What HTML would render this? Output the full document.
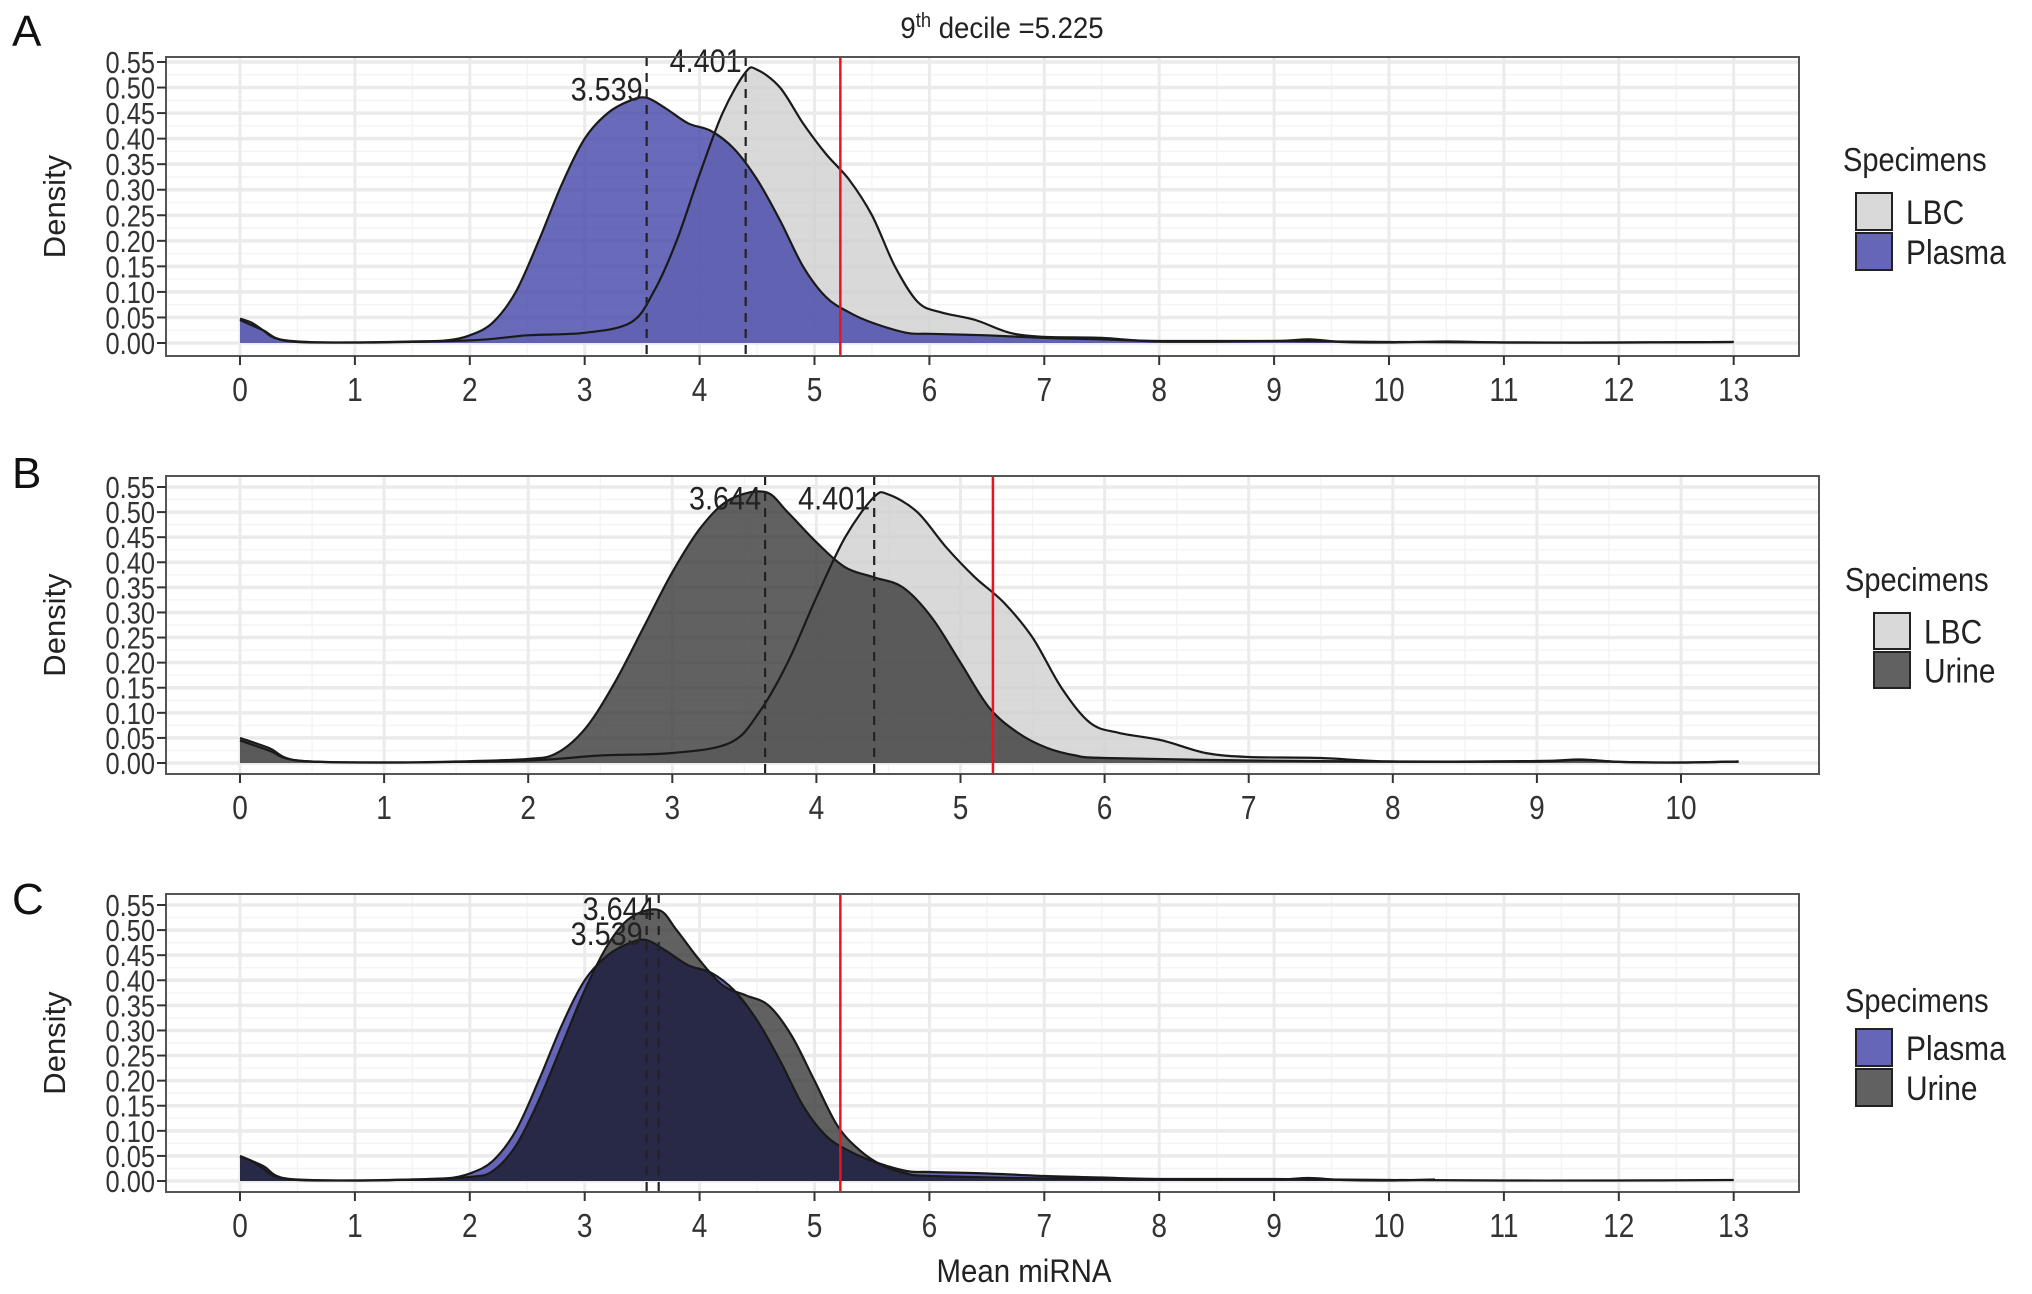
<!DOCTYPE html>
<html><head><meta charset="utf-8">
<style>
html,body{margin:0;padding:0;background:#fff;}
svg{display:block;font-family:"Liberation Sans",Arial,sans-serif;}
</style></head>
<body>
<svg id="chart" width="2032" height="1294" viewBox="0 0 2032 1294" xmlns="http://www.w3.org/2000/svg">
<text x="1002" y="38" font-size="30" text-anchor="middle" fill="#222" transform="translate(1002,0) scale(0.92,1) translate(-1002,0)">9<tspan font-size="20" dy="-11">th</tspan><tspan dy="11"> decile =5.225</tspan></text>
<text x="1024" y="1282" font-size="32" text-anchor="middle" fill="#222" transform="translate(1024,0) scale(0.92,1) translate(-1024,0)">Mean miRNA</text>
</svg>
<script>
const yTicks=[0,0.05,0.1,0.15,0.2,0.25,0.3,0.35,0.4,0.45,0.5,0.55];
const xTicksLong=[0,1,2,3,4,5,6,7,8,9,10,11,12,13];
const xTicksShort=[0,1,2,3,4,5,6,7,8,9,10];
const decile=5.225;
const plasmaX=[0,0.1,0.2,0.3,0.5,1,1.5,1.8,2,2.2,2.4,2.6,2.8,3,3.2,3.4,3.539,3.7,3.9,4.1,4.3,4.5,4.7,4.9,5.1,5.3,5.5,5.8,6,6.5,7,7.5,8,9,10,11,12,13];
const plasmaY=[0.048,0.04,0.025,0.01,0.002,0.001,0.003,0.005,0.015,0.04,0.1,0.2,0.31,0.4,0.45,0.475,0.48,0.46,0.43,0.415,0.38,0.32,0.24,0.15,0.09,0.06,0.04,0.02,0.018,0.015,0.01,0.007,0.004,0.004,0.002,0.001,0.001,0.002];
const lbcX=[0,0.2,0.4,1,2,2.5,3,3.4,3.6,3.8,4,4.2,4.4,4.5,4.7,4.9,5.1,5.3,5.5,5.7,5.9,6.1,6.4,6.7,7,7.5,8,9,9.3,9.6,10,10.5,11,12,13];
const lbcY=[0.045,0.025,0.005,0.001,0.005,0.015,0.02,0.04,0.1,0.2,0.33,0.45,0.53,0.535,0.5,0.43,0.37,0.32,0.25,0.15,0.08,0.06,0.045,0.02,0.012,0.01,0.003,0.004,0.007,0.002,0.001,0.003,0.001,0.001,0.002];
const lbcXB=[0,0.2,0.4,1,2,2.5,3,3.4,3.6,3.8,4,4.2,4.4,4.5,4.7,4.9,5.1,5.3,5.5,5.7,5.9,6.1,6.4,6.7,7,7.5,8,9,9.3,9.6,10,10.4];
const lbcYB=[0.045,0.025,0.005,0.001,0.005,0.015,0.02,0.04,0.1,0.2,0.33,0.45,0.53,0.535,0.5,0.43,0.37,0.32,0.25,0.15,0.08,0.06,0.045,0.02,0.012,0.01,0.003,0.004,0.007,0.002,0.001,0.003];
const urineX=[0,0.2,0.4,1,1.5,2,2.2,2.4,2.6,2.8,3,3.2,3.4,3.644,3.8,4,4.2,4.4,4.6,4.8,5,5.2,5.4,5.6,5.8,6,7,8,9,9.3,9.6,10,10.4];
const urineY=[0.05,0.03,0.005,0.001,0.003,0.008,0.02,0.07,0.16,0.27,0.38,0.47,0.525,0.54,0.5,0.44,0.39,0.37,0.35,0.29,0.2,0.11,0.06,0.03,0.015,0.01,0.005,0.003,0.003,0.006,0.002,0.001,0.003];

const svg=document.getElementById('chart');
const NS='http://www.w3.org/2000/svg';
function mk(tag,attrs,parent){const e=document.createElementNS(NS,tag);for(const k in attrs)e.setAttribute(k,attrs[k]);(parent||svg).appendChild(e);return e;}
function sx(x,s){return `translate(${x},0) scale(${s},1) translate(${-x},0)`;}

function smoothPath(pts){
  let d='M'+pts[0][0].toFixed(1)+','+pts[0][1].toFixed(1);
  for(let i=0;i<pts.length-1;i++){
    const p0=pts[i-1]||pts[i],p1=pts[i],p2=pts[i+1],p3=pts[i+2]||p2;
    const c1=[p1[0]+(p2[0]-p0[0])/6,p1[1]+(p2[1]-p0[1])/6];
    const c2=[p2[0]-(p3[0]-p1[0])/6,p2[1]-(p3[1]-p1[1])/6];
    d+='C'+c1[0].toFixed(1)+','+c1[1].toFixed(1)+' '+c2[0].toFixed(1)+','+c2[1].toFixed(1)+' '+p2[0].toFixed(1)+','+p2[1].toFixed(1);
  }
  return d;
}

function panel(cfg){
  const g=mk('g',{});
  
  
  const X=v=>cfg.x0px+(v)*cfg.ux;
  const Y=v=>cfg.y0px-(v/0.55)*(cfg.y0px-cfg.y55px);
  const L=cfg.left,R=cfg.right,T=cfg.top,B=cfg.bottom;
  mk('rect',{x:L,y:T,width:R-L,height:B-T,fill:'#fff'},g);
  for(let i=0;i<yTicks.length-1;i++){const yy=Y((yTicks[i]+yTicks[i+1])/2);mk('line',{x1:L,x2:R,y1:yy,y2:yy,stroke:'#f4f4f4','stroke-width':1.5},g);}
  for(let i=0;i<cfg.xt.length-1;i++){const xx=X(cfg.xt[i]+0.5);mk('line',{x1:xx,x2:xx,y1:T,y2:B,stroke:'#f4f4f4','stroke-width':1.5},g);}
  yTicks.forEach(t=>{const yy=Y(t);mk('line',{x1:L,x2:R,y1:yy,y2:yy,stroke:'#ebebeb','stroke-width':3.5},g);});
  cfg.xt.forEach(t=>{const xx=X(t);mk('line',{x1:xx,x2:xx,y1:T,y2:B,stroke:'#ebebeb','stroke-width':3},g);});
  const sg=mk('g',{style:'isolation:isolate'},g);
  cfg.series.forEach(s=>{
    const pts=s.x.map((v,i)=>[X(v),Y(s.y[i])]);
    const top=smoothPath(pts);
    const area=mk('path',{d:top+'L'+X(s.x[s.x.length-1])+','+Y(0)+'L'+X(s.x[0])+','+Y(0)+'Z',fill:s.fill,'fill-opacity':s.op,stroke:'none'},sg);
    if(s.blend) area.setAttribute('style','mix-blend-mode:multiply');
    
    
  });
  cfg.series.forEach(s=>{
    const pts=s.x.map((v,i)=>[X(v),Y(s.y[i])]);
    const ln=mk('path',{d:smoothPath(pts),fill:'none',stroke:'#1a1a1a','stroke-width':2.2},g);
    
    
  });
  cfg.medians.forEach(m=>{
    const ml=mk('line',{x1:X(m.v),x2:X(m.v),y1:T,y2:B,stroke:'#222','stroke-width':2.2,'stroke-dasharray':'9,7'},g);
    
    
    const tx=mk('text',{x:X(m.v)-4,y:Y(m.ly),'font-size':32,'text-anchor':'end',fill:'#222',transform:sx(X(m.v)-4,0.9)},g);
    tx.textContent=m.v.toFixed(3);
    
    
  });
  const rl=mk('line',{x1:X(decile),x2:X(decile),y1:T,y2:B,stroke:'#e8141e','stroke-width':2.5},g);
  
  
  mk('rect',{x:L,y:T,width:R-L,height:B-T,fill:'none',stroke:'#555','stroke-width':2},g);
  yTicks.forEach(t=>{const yy=Y(t);mk('line',{x1:L-9,x2:L,y1:yy,y2:yy,stroke:'#333','stroke-width':2},g);
    const tx=mk('text',{x:L-11,y:yy+11,'font-size':31,'text-anchor':'end',fill:'#333',transform:sx(L-11,0.82)},g);tx.textContent=t.toFixed(2);
    
    });
  cfg.xt.forEach(t=>{const xx=X(t);mk('line',{x1:xx,x2:xx,y1:B,y2:B+9,stroke:'#333','stroke-width':2},g);
    const tx=mk('text',{x:xx,y:B+45,'font-size':33,'text-anchor':'middle',fill:'#333',transform:sx(xx,0.85)},g);tx.textContent=t;
    
    });
  const yt=mk('text',{x:0,y:0,'font-size':31,'text-anchor':'middle',fill:'#222',transform:`translate(65,${(T+B)/2}) rotate(-90)`},g);
  yt.textContent='Density';
  
  
  const pl=mk('text',{x:12,y:cfg.letterY,'font-size':44,fill:'#111'},g);
  pl.textContent=cfg.letter;
  
  
  const lg=cfg.legend;
  const lt=mk('text',{x:lg.tx,y:lg.ty,'font-size':33,fill:'#222',transform:sx(lg.tx,0.88)},g);
  lt.textContent='Specimens';
  
  
  lg.items.forEach((it,i)=>{
    const y=lg.ky+i*lg.step;
    const r=mk('rect',{x:lg.kx,y:y,width:36,height:lg.step-3,fill:it.fill,'fill-opacity':it.op,stroke:'#222','stroke-width':2},g);
    
    
    const t=mk('text',{x:lg.kx+50,y:y+lg.step/2+11,'font-size':34,fill:'#222',transform:sx(lg.kx+50,0.88)},g);
    t.textContent=it.label;
    
    
  });
}
const LBCc='#cfcfcf',PLc='#4040a8',URc='#3a3a3a';
panel({name:'panel-a',letter:'A',letterY:46,left:166,right:1799,top:57,bottom:356,x0px:240,ux:114.9,y0px:343,y55px:62,xt:xTicksLong,
  series:[{name:'lbc',x:lbcX,y:lbcY,fill:LBCc,op:0.8},{name:'plasma',x:plasmaX,y:plasmaY,fill:PLc,op:0.78}],
  medians:[{v:3.539,ly:0.475},{v:4.401,ly:0.53}],
  legend:{tx:1843,ty:171,kx:1856,ky:193,step:40,items:[{label:'LBC',fill:LBCc,op:0.8},{label:'Plasma',fill:PLc,op:0.8}]}});
panel({name:'panel-b',letter:'B',letterY:488,left:166,right:1819,top:476,bottom:774,x0px:240,ux:144.1,y0px:763,y55px:487,xt:xTicksShort,
  series:[{name:'lbc',x:lbcXB,y:lbcYB,fill:LBCc,op:0.8},{name:'urine',x:urineX,y:urineY,fill:URc,op:0.8}],
  medians:[{v:3.644,ly:0.505},{v:4.401,ly:0.505}],
  legend:{tx:1845,ty:591,kx:1874,ky:613,step:39,items:[{label:'LBC',fill:LBCc,op:0.8},{label:'Urine',fill:URc,op:0.8}]}});
panel({name:'panel-c',letter:'C',letterY:914,left:166,right:1799,top:894,bottom:1192,x0px:240,ux:114.9,y0px:1181,y55px:905,xt:xTicksLong,
  series:[{name:'urine',x:urineX,y:urineY,fill:URc,op:0.8},{name:'plasma',x:plasmaX,y:plasmaY,fill:PLc,op:0.8,blend:true}],
  medians:[{v:3.644,ly:0.52},{v:3.539,ly:0.47}],
  legend:{tx:1845,ty:1012,kx:1856,ky:1029,step:40,items:[{label:'Plasma',fill:PLc,op:0.8},{label:'Urine',fill:URc,op:0.8}]}});
</script>
</body></html>
